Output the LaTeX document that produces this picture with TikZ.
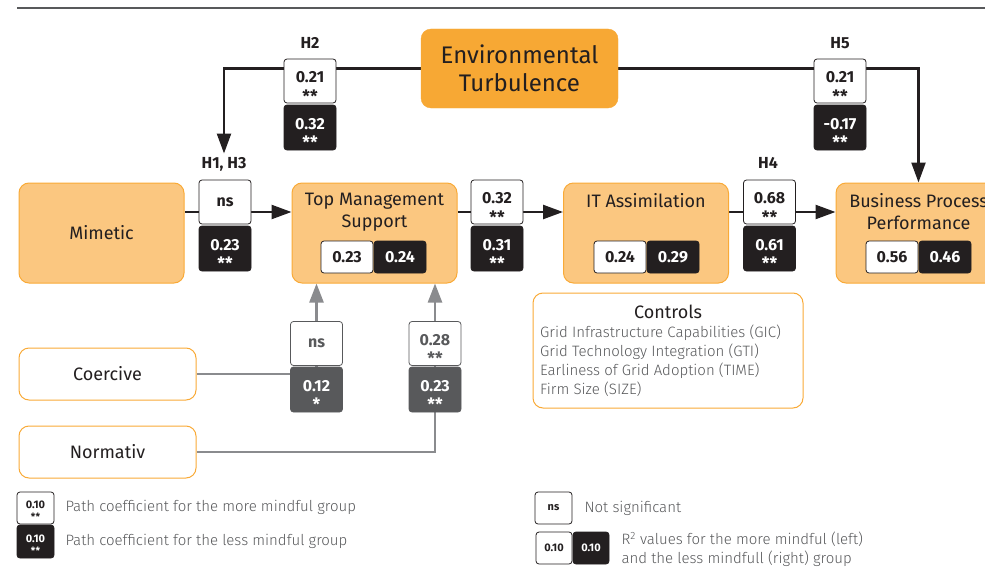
\documentclass[tikz,border=0pt]{standalone}
\usepackage{fontspec}
\setmainfont{Fira Sans}
\newfontfamily\lightfont{Fira Sans Light}
\usepackage{tikz}
\usetikzlibrary{arrows.meta,backgrounds}

\definecolor{envorange}{RGB}{247,168,52}
\definecolor{lightorange}{RGB}{251,199,128}
\definecolor{boxorange}{RGB}{249,170,55}
\definecolor{ink}{RGB}{35,31,32}
\definecolor{dgray}{RGB}{88,89,91}
\definecolor{pathgray}{RGB}{138,139,142}

\newcommand{\fsz}[1]{\fontsize{#1}{#1}\selectfont}
% value on top, significance stars below it
\newcommand{\coef}[2]{\rule{0pt}{23pt}#1\\[3.5pt]{\fsz{17}#2}}
\newcommand{\smallcoef}[2]{\rule{0pt}{13.6pt}#1\\[1pt]{\fsz{10}#2}}

\tikzset{
  factor/.style={draw=boxorange, fill=lightorange, line width=1pt, rounded corners=10pt,
    minimum width=165, minimum height=100, inner sep=0pt, text=ink, font=\fsz{18}},
  source/.style={draw=boxorange, fill=white, line width=1pt, rounded corners=10pt,
    minimum width=177, minimum height=52, inner sep=0pt, text=ink, font=\fsz{18}},
  coefup/.style={draw=ink, fill=white, line width=0.8pt, rounded corners=3pt,
    minimum width=52, minimum height=44, inner sep=0pt, align=center, text=ink,
    font=\bfseries\fsz{16}},
  coefdown/.style={coefup, fill=ink, text=white, minimum height=45},
  gcoefup/.style={coefup, draw=dgray, text=dgray},
  gcoefdown/.style={coefup, draw=dgray, fill=dgray, text=white, minimum height=45},
  rup/.style={draw=ink, fill=white, line width=0.8pt, rounded corners=3pt,
    minimum width=52, minimum height=32, inner sep=0pt, text=ink, font=\bfseries\fsz{16}},
  rdown/.style={rup, fill=ink, text=white},
  hyp/.style={font=\bfseries\fsz{16}, text=ink},
  conn/.style={draw=ink, line width=2.4pt},
  arr/.style={conn, -{Triangle[length=20pt,width=14pt]}},
  garr/.style={draw=pathgray, line width=2.4pt, -{Triangle[length=19pt,width=14pt]}},
  legtext/.style={anchor=west, text=dgray, font=\lightfont\fsz{15}, align=left},
}

\begin{document}
\begin{tikzpicture}[x=1pt,y=-1pt]
  \useasboundingbox (0,0) rectangle (985,578);
  \clip (0,0) rectangle (985,578);

  \draw[dgray, line width=2pt] (17,8) -- (985,8);

  % moderator
  \node[draw=envorange, fill=envorange, rounded corners=10pt, minimum width=197,
    minimum height=79, align=center, text=ink, font=\fsz{24}] (env) at (519.5,68.5)
    {Environmental\\[4pt]Turbulence};

  % main constructs
  \node[factor] (mim) at (101.5,233) {Mimetic};
  \node[factor] (tms) at (374.5,233) {};
  \node[factor] (it) at (646,233) {};
  \node[factor] (bpp) at (918.5,233) {};
  \node[text=ink, font=\fsz{18}, align=center] (tmst) at (374.5,212) {Top Management\\[4pt]Support};
  \node[text=ink, font=\fsz{18}] (itt) at (646,201) {IT Assimilation};
  \node[text=ink, font=\fsz{18}, align=center] (bppt) at (918.5,212) {Business Process\\[4pt]Performance};

  \node[rup] (tmsa) at (347,257) {0.23};
  \node[rdown] (tmsb) at (400,257) {0.24};
  \node[rup] (ita) at (620,257) {0.24};
  \node[rdown] (itb) at (673,257) {0.29};
  \node[rup] (bppa) at (892,257) {0.56};
  \node[rdown] (bppb) at (945,257) {0.46};

  \node[source] (coe) at (107.5,374) {Coercive};
  \node[source] (nor) at (107.5,452) {Normativ};

  % hypotheses
  \node[hyp] (h2) at (310,43) {H2};
  \node[hyp] (h5) at (840,43) {H5};
  \node[hyp] (h13) at (224,164) {H1, H3};
  \node[hyp] (h4) at (768,163) {H4};

  % path coefficients
  \node[coefup] (h2a) at (310,81) {\coef{0.21}{**}};
  \node[coefdown] (h2b) at (310,127.5) {\coef{0.32}{**}};
  \node[coefup] (h5a) at (840,81) {\coef{0.21}{**}};
  \node[coefdown] (h5b) at (840,127.5) {\coef{-0.17}{**}};
  \node[coefup] (mima) at (225,202) {ns};
  \node[coefdown] (mimb) at (225,248.5) {\coef{0.23}{**}};
  \node[coefup] (tmsia) at (497,202) {\coef{0.32}{**}};
  \node[coefdown] (tmsib) at (497,248.5) {\coef{0.31}{**}};
  \node[coefup] (itba) at (769.5,202) {\coef{0.68}{**}};
  \node[coefdown] (itbb) at (769.5,248.5) {\coef{0.61}{**}};
  \node[gcoefup] (coea) at (316.5,343.5) {ns};
  \node[gcoefdown] (coeb) at (316.5,389.5) {\coef{0.12}{*}};
  \node[gcoefup] (nora) at (435,343.5) {\coef{0.28}{**}};
  \node[gcoefdown] (norb) at (435,389.5) {\coef{0.23}{**}};

  \begin{scope}[on background layer]
    \draw[arr] (env.west) -| (h13.north);
    \draw[arr] (env.east) -| (bpp.north);
    \draw[arr] ([yshift=21pt]mim.east) -- ([yshift=21pt]tms.west);
    \draw[arr] ([yshift=21pt]tms.east) -- ([yshift=21pt]it.west);
    \draw[arr] ([yshift=21pt]it.east) -- ([yshift=21pt]bpp.west);
    \draw[garr] (coe.east) -| (coeb.center) -- (coeb |- tms.south);
    \draw[garr] (nor.east) -| (norb.center) -- (norb |- tms.south);
  \end{scope}

  % controls
  \node[draw=boxorange, fill=white, line width=1pt, rounded corners=10pt,
    minimum width=270, minimum height=115] (ctrl) at (668,350.5) {};
  \node[text=ink, font=\fsz{18}] (ctrlt) at (668,312) {Controls};
  \node[anchor=north west, align=left, text=dgray, font=\lightfont\fontsize{15}{19}\selectfont,
    inner sep=0pt] (ctrll) at (540,325)
    {Grid Infrastructure Capabilities (GIC)\\Grid Technology Integration (GTI)\\
     Earliness of Grid Adoption (TIME)\\Firm Size (SIZE)};

  % legend
  \node[coefup, minimum width=37, minimum height=32, font=\bfseries\fsz{11}] (lga) at (35.5,508)
    {\smallcoef{0.10}{**}};
  \node[coefdown, minimum width=37, minimum height=33, font=\bfseries\fsz{11}] (lgb) at (35.5,541.5)
    {\smallcoef{0.10}{**}};
  \node[legtext] (lgat) at (62,507) {Path coefficient for the more mindful group};
  \node[legtext] (lgbt) at (62,541) {Path coefficient for the less mindful group};

  \node[coefup, minimum width=37, minimum height=32, font=\bfseries\fsz{11}] (lgns) at (553.5,508) {ns};
  \node[legtext] (lgnst) at (581,508) {Not significant};
  \node[rup, minimum width=36, minimum height=32, font=\bfseries\fsz{11}] (lgra) at (554,548) {0.10};
  \node[rdown, minimum width=36, minimum height=32, font=\bfseries\fsz{11}] (lgrb) at (591,548) {0.10};
  \node[legtext, font=\lightfont\fontsize{15}{19}\selectfont] (lgrt) at (618,549)
    {R\textsuperscript{2} values for the more mindful (left)\\and the less mindfull (right) group};
\end{tikzpicture}
\end{document}
